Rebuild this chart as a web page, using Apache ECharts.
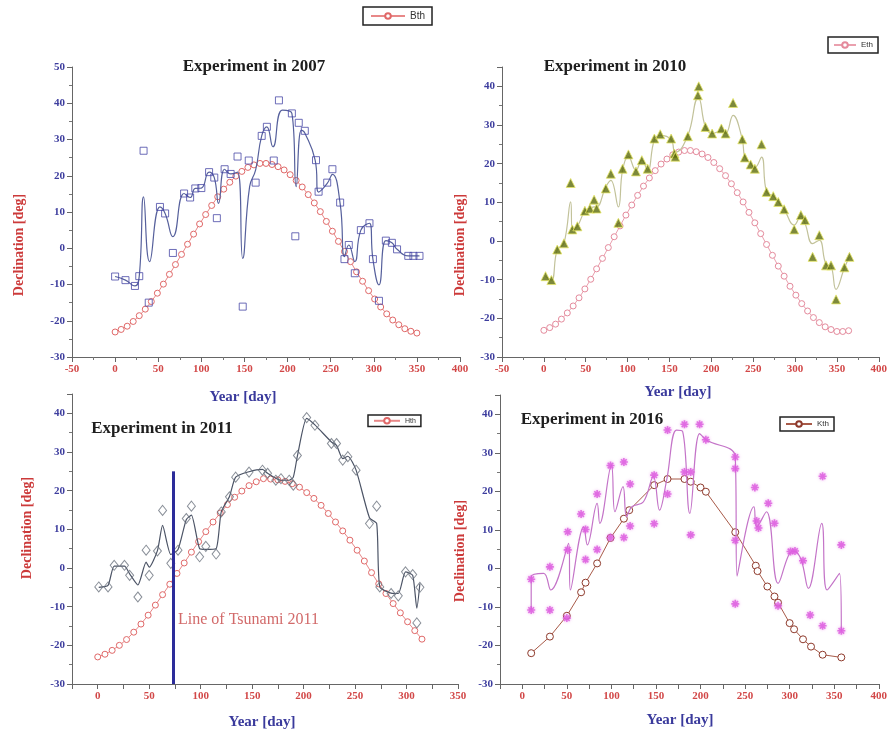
<!DOCTYPE html>
<html>
<head>
<meta charset="utf-8">
<script src="https://cdn.jsdelivr.net/npm/echarts@6/dist/echarts.min.js"></script>
<style>html,body{margin:0;padding:0;background:#fff}#c{width:890px;height:733px}</style>
</head>
<body>
<div id="c"></div>
<script>
// ---- Theoretical declination (red circles), days step 7 ----
const thDays = [0,7,14,21,28,35,42,49,56,63,70,77,84,91,98,105,112,119,126,133,140,147,154,161,168,175,182,189,196,203,210,217,224,231,238,245,252,259,266,273,280,287,294,301,308,315,322,329,336,343,350,357,364];
const thDecl = [-23.1,-22.4,-21.5,-20.2,-18.6,-16.8,-14.7,-12.4,-9.9,-7.2,-4.5,-1.7,1.1,3.9,6.7,9.3,11.8,14.2,16.3,18.2,19.9,21.2,22.3,23.0,23.4,23.4,23.1,22.5,21.6,20.3,18.7,16.9,14.8,12.5,10.1,7.4,4.7,1.9,-0.9,-3.7,-6.5,-9.1,-11.7,-14.0,-16.2,-18.1,-19.8,-21.1,-22.2,-22.9,-23.4,-23.4,-23.2];

// ---- 2007 ----
const bDays = [0,12,23,28,33,39,52,58,67,80,87,93,100,109,115,118,127,134,142,148,155,163,170,176,184,190,205,209,213,220,233,236,246,252,261,266,271,278,285,295,299,306,314,321,327,340,346,353];
const bVals = [-7.8,-8.8,-10.4,-7.7,26.9,-15.0,11.4,9.6,-1.3,15.1,14.0,16.5,16.6,21.0,19.5,8.3,21.8,20.5,25.3,-16.1,24.2,18.1,31.0,33.5,24.2,40.8,37.2,3.3,34.6,32.4,24.3,15.6,18.1,21.8,12.6,-3.0,0.9,-6.9,5.0,6.9,-3.0,-14.5,2.1,1.5,-0.3,-2.1,-2.1,-2.1];
const bLineDays = [0,12,23,28,33,40,52,58,67,80,87,93,100,109,115,120,127,134,142,148,156,163,170,176,183,194,205,210,216,220,232,236,246,252,261,266,271,278,285,295,299,306,314,321,327,340,346,353];
const bLineVals = [-7.8,-8.8,-10.4,-7.7,14.2,-3.7,11.4,9.6,3.2,15.1,14.0,16.5,16.6,21.0,19.5,12.4,21.8,20.5,21.0,-2.8,17.0,21.6,31.0,33.5,28.0,38.1,37.2,17.0,32.6,31.8,24.3,15.5,17.9,20.4,12.3,-2.3,0.9,-3.7,5.0,6.9,-3.0,-10.1,2.1,1.5,-0.3,-2.1,-2.1,-2.1];

// ---- 2010 ----
const eDays = [2,9,16,24,32,34,40,49,55,60,63,74,80,89,94,101,110,117,124,132,139,152,156,157,172,184,185,193,201,212,217,226,237,240,247,252,260,266,274,280,287,299,307,312,321,329,337,343,349,359,365];
const eVals = [-9.1,-10.1,-2.2,-0.6,15.0,3.0,3.8,7.8,8.4,10.7,8.4,13.6,17.4,4.7,18.7,22.4,18.0,20.9,18.7,26.5,27.6,26.5,22.6,21.8,27.1,37.7,40.0,29.5,27.8,29.1,27.8,35.7,26.3,21.6,19.8,18.7,25.0,12.7,11.6,10.1,8.2,3.0,6.7,5.4,-4.1,1.5,-6.3,-6.3,-15.1,-6.8,-4.1];
const eLineVals = [-9.1,-10.1,-2.2,-0.6,10.1,3.0,3.8,7.8,8.4,8.8,8.8,14.0,15.7,8.8,18.3,21.8,18.3,20.9,18.3,26.2,27.3,26.2,23.0,23.0,27.3,36.8,36.8,29.5,27.8,28.5,27.8,32.5,26.3,21.8,20.0,19.0,21.7,12.7,11.6,10.1,8.2,4.1,6.4,4.5,-0.7,0.2,-6.0,-6.5,-12.5,-7.0,-4.1];

// ---- 2011 ----
const hThDays = [0,7,14,21,28,35,42,49,56,63,70,77,84,91,98,105,112,119,126,133,140,147,154,161,168,175,182,189,196,203,210,217,224,231,238,245,252,259,266,273,280,287,294,301,308,315];
const hThVals = [-23.0,-22.3,-21.3,-20.0,-18.5,-16.6,-14.5,-12.2,-9.6,-6.9,-4.2,-1.4,1.3,4.1,6.8,9.4,11.9,14.2,16.4,18.3,19.9,21.3,22.3,23.1,23.0,22.8,22.4,21.8,20.9,19.5,18.0,16.2,14.1,11.9,9.6,7.2,4.6,1.8,-1.2,-4.1,-6.6,-9.2,-11.6,-13.9,-16.2,-18.4];
const hDays = [1,10,16,26,31,39,47,50,58,63,71,78,86,91,99,105,115,120,128,134,147,160,165,173,178,186,190,194,203,211,227,232,238,243,251,264,271,274,285,292,299,306,310,313];
const hVals = [-4.9,-4.9,0.7,0.7,-1.9,-7.5,4.6,-1.9,4.4,14.9,1.2,4.6,12.8,16.0,2.9,5.6,3.6,14.5,18.4,23.5,24.8,25.3,24.5,22.7,23.1,22.7,21.4,29.1,38.9,36.9,32.2,32.2,27.9,28.8,25.3,11.5,16.0,-4.9,-6.6,-7.2,-1.0,-1.7,-14.2,-5.0];
const hLineVals = [-5.0,-4.5,0.5,0.5,-1.5,-4.4,1.5,0.2,4.5,11.0,3.5,4.8,12.5,13.7,5.0,4.8,5.0,14.5,18.5,23.5,24.9,25.5,24.5,23.2,22.7,22.7,23.5,29.0,38.7,37.0,32.6,31.7,28.3,28.9,25.3,13.0,11.5,-4.9,-6.5,-6.6,-1.0,-1.9,-10.4,-4.0];
const tsunamiDay = 73;
const tsunamiRange = [-30, 25];

// ---- 2016 ----
const kThDays = [10,31,50,66,71,84,99,114,120,148,163,182,189,200,206,239,262,264,275,283,287,300,305,315,324,337,358];
const kThVals = [-22.0,-17.7,-12.3,-6.2,-3.7,1.3,7.9,12.9,15.1,21.6,23.2,23.2,22.5,21.0,19.9,9.4,0.7,-0.7,-4.7,-7.3,-8.9,-14.2,-15.8,-18.4,-20.3,-22.4,-23.1];
const kDays = [10,10,31,31,50,51,51,66,71,71,84,84,99,99,114,114,121,121,148,148,163,163,182,182,189,189,199,206,239,239,239,239,261,263,265,276,283,287,301,306,315,323,337,337,358,358];
const kVals = [-2.8,-10.8,0.4,-10.8,-12.9,9.5,4.8,14.1,10.1,2.3,19.3,4.9,26.7,8.0,27.6,8.0,21.9,11.0,24.2,11.6,35.9,19.3,37.4,25.0,25.0,8.7,37.4,33.4,28.9,25.9,7.3,-9.2,21.0,12.3,10.5,16.9,11.7,-9.7,4.4,4.5,2.0,-12.1,23.9,-14.9,6.1,-16.2];
const kLineDays = [10,10,24,32,52,54,69,73,84,87,100,104,113,117,123,136,147,154,162,173,180,188,199,206,239,241,260,263,274,287,299,305,313,321,336,342,356,358];
const kLineVals = [-10.8,-2.2,-1.3,-5.6,6.5,-5.6,10.8,6.1,16.9,11.7,26.8,14.7,21.2,13.4,16.0,17.3,23.8,15.1,22.9,35.9,35.5,14.3,35.0,33.4,28.9,-2.0,16.0,10.8,14.7,-3.9,3.5,4.5,2.2,-5.2,11.7,-5.6,-1.3,-16.4];

// ---- texts ----
const titles = ['Experiment in 2007','Experiment in 2010','Experiment in 2011','Experiment in 2016'];
const yName = 'Declination [deg]';
const xName = 'Year [day]';
const tsunamiText = 'Line of Tsunami 2011';

const zip = (a, b) => a.map((x, i) => [x, b[i]]);
const SERIF = '"Liberation Serif","Times New Roman",serif';

function xAxis(gi, min, max, interval, every50) {
  return {
    gridIndex: gi, type: 'value', min: min, max: max, interval: interval,
    axisLine: { onZero: false, lineStyle: { color: '#666', width: 1 } },
    axisTick: { show: true, length: 5, lineStyle: { color: '#666' } },
    minorTick: { show: !every50, splitNumber: 2, length: 3, lineStyle: { color: '#777' } },
    splitLine: { show: false },
    axisLabel: {
      fontFamily: SERIF, fontWeight: 'bold', fontSize: 11, color: '#d24848', margin: 7,
      formatter: every50 ? (v) => (v % 50 === 0 ? String(v) : '') : (v) => String(v)
    }
  };
}
function yAxis(gi, max) {
  return {
    gridIndex: gi, type: 'value', min: -30, max: max, interval: 10,
    axisLine: { show: true, onZero: false, lineStyle: { color: '#666', width: 1 } },
    axisTick: { show: true, length: 5, lineStyle: { color: '#666' } },
    minorTick: { show: true, splitNumber: 2, length: 3, lineStyle: { color: '#777' } },
    splitLine: { show: false },
    axisLabel: {
      fontFamily: SERIF, fontWeight: 'bold', fontSize: 11, color: '#3d3d9e', margin: 7,
      showMaxLabel: max % 10 === 0
    }
  };
}
function thSeries(name, gi, data, edge, line, size) {
  return {
    name: name, type: 'line', xAxisIndex: gi, yAxisIndex: gi, data: data,
    symbol: 'circle', symbolSize: size || 6, showSymbol: true,
    itemStyle: { color: '#fff', borderColor: edge, borderWidth: 1 },
    lineStyle: { color: line, width: 1 }, z: 2
  };
}
function txt(x, y, text, font, fill, rot) {
  return {
    type: 'text', x: x, y: y, rotation: rot || 0, silent: true,
    style: { text: text, font: font, fill: fill, align: 'center', verticalAlign: 'middle',
             textAlign: 'center', textVerticalAlign: 'middle' }
  };
}
function legend(name, left, top, itemW, fs, pad) {
  return {
    data: [name], left: left, top: top, orient: 'horizontal', selectedMode: false,
    borderColor: '#222', borderWidth: 1.5, padding: pad, itemWidth: itemW, itemHeight: 7,
    itemGap: 3, textStyle: { fontSize: fs, color: '#333', fontFamily: 'Liberation Sans' }
  };
}

const chart = echarts.init(document.getElementById('c'), null, { renderer: 'canvas' });
chart.setOption({
  backgroundColor: '#ffffff',
  animation: false,
  grid: [
    { left: 72, top: 67, width: 388, height: 290 },
    { left: 502, top: 67, width: 378, height: 290 },
    { left: 72, top: 394, width: 386, height: 290 },
    { left: 500, top: 395, width: 382, height: 289 }
  ],
  xAxis: [
    xAxis(0, -50, 400, 50, false),
    xAxis(1, -50, 400, 50, false),
    xAxis(2, -25, 350, 25, true),
    xAxis(3, -25, 400, 25, true)
  ],
  yAxis: [ yAxis(0, 50), yAxis(1, 45), yAxis(2, 45), yAxis(3, 45) ],
  legend: [
    legend('Bth', 363, 7, 34, 10, [4, 7]),
    legend('Eth', 828, 37, 22, 8, [4, 5]),
    legend('Hth', 368, 415, 26, 7, [2, 5]),
    legend('Kth', 780, 417, 26, 8, [3, 5])
  ],
  graphic: [
    txt(254, 67, titles[0], 'bold 17px ' + SERIF, '#1e1e1e'),
    txt(615, 67, titles[1], 'bold 17px ' + SERIF, '#1e1e1e'),
    txt(162, 429, titles[2], 'bold 17px ' + SERIF, '#1e1e1e'),
    txt(592, 420, titles[3], 'bold 17px ' + SERIF, '#1e1e1e'),
    txt(19, 245, yName, 'bold 14px ' + SERIF, '#cc3a3a', Math.PI / 2),
    txt(460, 245, yName, 'bold 14px ' + SERIF, '#cc3a3a', Math.PI / 2),
    txt(27, 528, yName, 'bold 14px ' + SERIF, '#cc3a3a', Math.PI / 2),
    txt(460, 551, yName, 'bold 14px ' + SERIF, '#cc3a3a', Math.PI / 2),
    txt(243, 397, xName, 'bold 15px ' + SERIF, '#3a3a9c'),
    txt(678, 392, xName, 'bold 15px ' + SERIF, '#3a3a9c'),
    txt(262, 722, xName, 'bold 15px ' + SERIF, '#3a3a9c'),
    txt(680, 720, xName, 'bold 15px ' + SERIF, '#3a3a9c'),
    {
      type: 'text', x: 178, y: 620, silent: true,
      style: { text: tsunamiText, font: '16px ' + SERIF, fill: '#d26a6a', align: 'left', verticalAlign: 'middle',
               textAlign: 'left', textVerticalAlign: 'middle' }
    }
  ],
  series: [
    // Panel 1 (2007)
    thSeries('Bth', 0, zip(thDays.slice(0, 51), thDecl.slice(0, 51)), '#e06868', '#e88888'),
    { name: 'fit2007', type: 'line', xAxisIndex: 0, yAxisIndex: 0, data: zip(bLineDays, bLineVals),
      smooth: 0.5, symbol: 'none', lineStyle: { color: '#56609c', width: 1.2 }, z: 3 },
    { name: 'obs2007', type: 'scatter', xAxisIndex: 0, yAxisIndex: 0, data: zip(bDays, bVals),
      symbol: 'rect', symbolSize: 7,
      itemStyle: { color: 'rgba(255,255,255,0)', borderColor: '#4848a6', borderWidth: 1 }, z: 4 },

    // Panel 2 (2010)
    thSeries('Eth', 1, zip(thDays, thDecl), '#e48a9c', '#eaa0ae'),
    { name: 'fit2010', type: 'line', xAxisIndex: 1, yAxisIndex: 1, data: zip(eDays, eLineVals),
      smooth: 0.45, symbol: 'none', lineStyle: { color: '#c2c29a', width: 1.2 }, z: 3 },
    { name: 'obs2010', type: 'scatter', xAxisIndex: 1, yAxisIndex: 1, data: zip(eDays, eVals),
      symbol: 'triangle', symbolSize: 9,
      itemStyle: { color: '#5c6c0a', borderColor: '#e6e668', borderWidth: 1 }, z: 4 },

    // Panel 3 (2011)
    thSeries('Hth', 2, zip(hThDays, hThVals), '#e06868', '#e88888'),
    { name: 'fit2011', type: 'line', xAxisIndex: 2, yAxisIndex: 2, data: zip(hDays, hLineVals),
      smooth: 0.2, symbol: 'none', lineStyle: { color: '#4c5466', width: 1.2 }, z: 3,
      markLine: {
        silent: true, symbol: ['none', 'none'], label: { show: false },
        lineStyle: { color: '#2c2c9a', width: 3, type: 'solid' },
        data: [[{ coord: [tsunamiDay, tsunamiRange[0]] }, { coord: [tsunamiDay, tsunamiRange[1]] }]]
      } },
    { name: 'obs2011', type: 'scatter', xAxisIndex: 2, yAxisIndex: 2, data: zip(hDays, hVals),
      symbol: 'diamond', symbolSize: [8, 10],
      itemStyle: { color: 'rgba(255,255,255,0)', borderColor: '#6c737e', borderWidth: 1 }, z: 4 },

    // Panel 4 (2016)
    thSeries('Kth', 3, zip(kThDays, kThVals), '#8e3a2c', '#a85a48', 7),
    { name: 'fit2016', type: 'line', xAxisIndex: 3, yAxisIndex: 3, data: zip(kLineDays, kLineVals),
      smooth: 0.4, symbol: 'none', lineStyle: { color: '#c474c8', width: 1.2 }, z: 3 },
    { name: 'obs2016', type: 'scatter', xAxisIndex: 3, yAxisIndex: 3, data: zip(kDays, kVals),
      symbol: 'path://M5 0 L5 10 M0 5 L10 5 M1.5 1.5 L8.5 8.5 M1.5 8.5 L8.5 1.5', symbolSize: 8,
      itemStyle: { color: 'rgba(0,0,0,0)', borderColor: '#dc5ade', borderWidth: 1.6,
                   shadowBlur: 3, shadowColor: 'rgba(230,120,230,0.8)' }, z: 4 }
  ]
});
</script>
</body>
</html>
